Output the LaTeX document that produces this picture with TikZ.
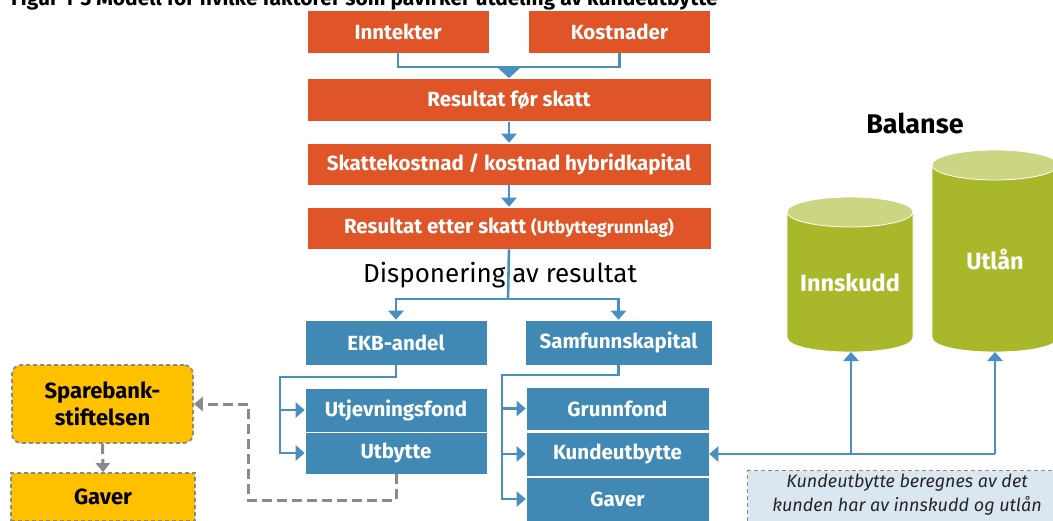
\documentclass[tikz,border=0pt]{standalone}
\usepackage{fontspec}
\setmainfont{Fira Sans}
\usetikzlibrary{arrows.meta}
\definecolor{orangec}{HTML}{E05527}
\definecolor{bluec}{HTML}{4089B5}
\definecolor{linec}{HTML}{4A8FBF}
\definecolor{yellowc}{HTML}{FFC000}
\definecolor{greenc}{HTML}{A8B82A}
\definecolor{lgreenc}{HTML}{CCD581}
\definecolor{notec}{HTML}{DBE7F0}
\definecolor{greyc}{HTML}{8A8A8A}
\tikzset{
  box/.style={draw=white, line width=0.6pt, text=white, inner sep=0pt,
    font=\bfseries\fontsize{20.5}{24}\selectfont},
  obox/.style={box, fill=orangec},
  bbox/.style={box, fill=bluec},
  ybox/.style={fill=yellowc, draw=greyc, dashed, dash pattern=on 4pt off 3pt, line width=1.8pt, text=black, inner sep=0pt,
    font=\bfseries\fontsize{22}{27}\selectfont, align=center},
  conn/.style={draw=linec, line width=2.6pt},
  arr/.style={conn, -{Triangle[width=15pt,length=9pt]}},
  darr/.style={draw=greyc, line width=3pt, dash pattern=on 10pt off 5pt, -{Triangle[width=14pt,length=9pt]}},
  head/.style={text=black, font=\fontsize{26}{30}\selectfont},
}
\begin{document}
\begin{tikzpicture}[x=1pt, y=-1pt]
\useasboundingbox (0,0) rectangle (1053,520);
\clip (0,0) rectangle (1053,520);
% title (cut off at the top)
\node[anchor=base west, inner sep=0pt, font=\bfseries\fontsize{21}{24}\selectfont] (title) at (11,5.5) {Figur 1-3 Modell for hvilke faktorer som påvirker utdeling av kundeutbytte};

% orange chain
\node[obox, minimum width=182, minimum height=43] (inn) at (398,31.5) {Inntekter};
\node[obox, minimum width=182, minimum height=43] (kost) at (619.5,31.5) {Kostnader};
\node[obox, minimum width=404, minimum height=43] (rfs) at (509,100) {Resultat før skatt};
\node[obox, minimum width=404, minimum height=42] (skatt) at (509,164) {Skattekostnad / kostnad hybridkapital};
\node[obox, minimum width=404, minimum height=42] (res) at (509,228) {Resultat etter skatt {\fontsize{17.5}{20}\selectfont(Utbyttegrunnlag)}};

\coordinate (j1) at (509,67);
\draw[conn] (inn.south) |- (j1) -| (kost.south);
\draw[arr, -{Triangle[width=21pt,length=10pt]}] (j1) -- (rfs.north);
\draw[arr] (rfs.south) -- (skatt.north);
\draw[arr] (skatt.south) -- (res.north);

% disponering
\node[head] (disp) at (500,275) {Disponering av resultat};
\coordinate (j2) at (508,299);
\node[bbox, minimum width=182, minimum height=45] (ekb) at (396,342.5) {EKB-andel};
\node[bbox, minimum width=187, minimum height=45] (samf) at (618.5,342.5) {Samfunnskapital};
\draw[conn] (res.south) -- (j2);
\draw[arr] (j2) -| (ekb.north);
\draw[arr] (j2) -| (samf.north);

\node[bbox, minimum width=182, minimum height=44] (utj) at (396,410) {Utjevningsfond};
\node[bbox, minimum width=182, minimum height=42] (utb) at (396,453) {Utbytte};
\node[bbox, minimum width=183, minimum height=43] (grf) at (617.5,408.5) {Grunnfond};
\node[bbox, minimum width=183, minimum height=44] (kub) at (617.5,454) {Kundeutbytte};
\node[bbox, minimum width=183, minimum height=44] (gav) at (617.5,499) {Gaver};

\coordinate (eL) at (280,377);
\draw[arr] (ekb.south) |- (eL) |- (utb.west);
\draw[arr] (eL |- utj.west) -- (utj.west);
\coordinate (sL) at (502,375);
\draw[arr] (samf.south) |- (sL) |- (gav.west);
\draw[arr] (sL |- grf.west) -- (grf.west);
\draw[arr] (sL |- kub.west) -- (kub.west);

% sparebankstiftelsen
\node[ybox, rounded corners=9pt, minimum width=181, minimum height=78] (spb) at (102.5,404) {Sparebank-\\stiftelsen};
\node[ybox, minimum width=184, minimum height=48] (gy) at (103,497) {Gaver};
\coordinate (dA) at (248,500);
\draw[darr] (utb.south) |- (dA) |- (spb.east);
\draw[darr] (spb.south) -- (gy.north);

% balanse
\node[text=black, font=\bfseries\fontsize{27}{30}\selectfont] (bal) at (915,123) {Balanse};
\filldraw[fill=greenc, draw=white, line width=0.8pt] (787,212) -- (787,337) .. controls (787,357) and (913,357) .. (913,337) -- (913,212) -- cycle;
\filldraw[fill=lgreenc, draw=white, line width=0.8pt] (850,212) ellipse [x radius=63, y radius=15];
\filldraw[fill=greenc, draw=white, line width=0.8pt] (932,165) -- (932,337) .. controls (932,357) and (1058,357) .. (1058,337) -- (1058,165) -- cycle;
\filldraw[fill=lgreenc, draw=white, line width=0.8pt] (995,165) ellipse [x radius=63, y radius=15];
\node[text=white, font=\bfseries\fontsize{23.5}{27}\selectfont] (innsk) at (850,283) {Innskudd};
\node[text=white, font=\bfseries\fontsize{23.5}{27}\selectfont] (utlan) at (995,260) {Utlån};
\coordinate (innB) at (851,352);
\coordinate (utlB) at (995,352);

\coordinate (kR) at (995,454);
\coordinate (kM) at (851,454);
\draw[arr] (kR) -- (kub.east);
\draw[arr] (kM) -- (innB);
\draw[arr] (kR) -- (utlB);

% note
\node[fill=notec, draw=greyc, dashed, dash pattern=on 4pt off 3pt, line width=1.4pt, minimum width=313, minimum height=56, inner sep=0pt, anchor=north west] (note) at (747,470) {};
\node[align=center, font=\itshape\fontsize{18}{24}\selectfont, text=black!85] (notetxt) at (907,495) {Kundeutbytte beregnes av det\\kunden har av innskudd og utlån};
\end{tikzpicture}
\end{document}
